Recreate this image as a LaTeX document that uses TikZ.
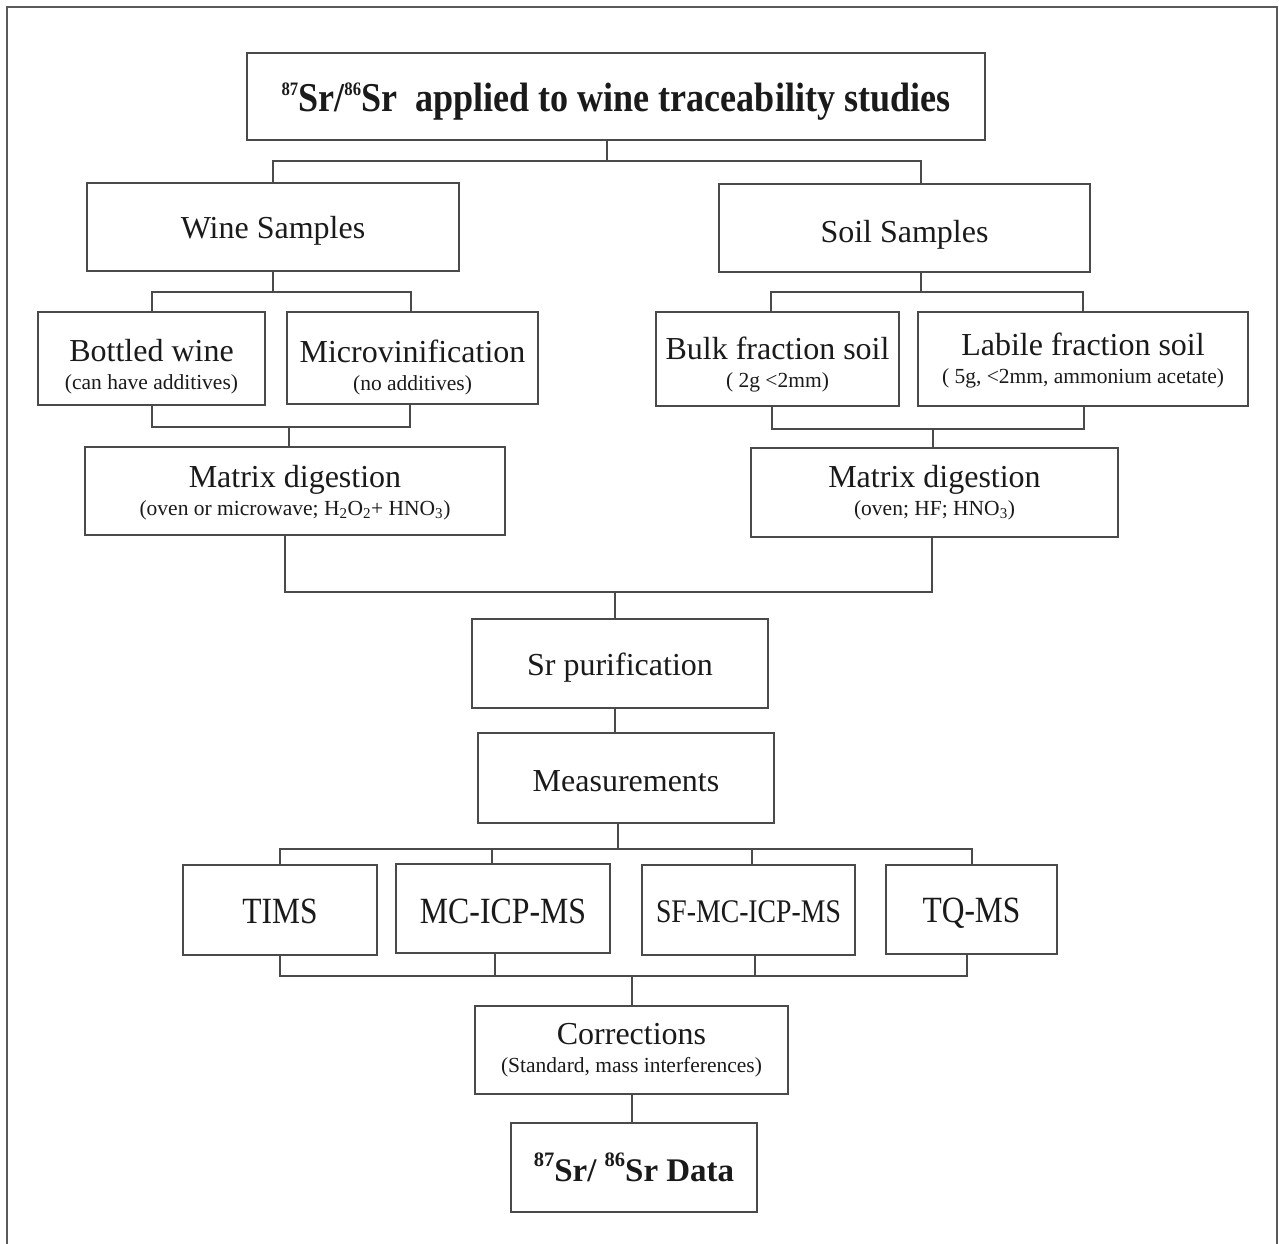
\documentclass[tikz,border=0pt]{standalone}
\usepackage{fontspec}
\usepackage{graphicx}
\setmainfont{Liberation Serif}
\definecolor{linec}{HTML}{4A4A4A}
\definecolor{framec}{HTML}{5A5A5A}
\definecolor{txt}{HTML}{1A1A1A}
\newcommand{\mainf}{\fontsize{32}{36}\selectfont}
\newcommand{\subf}{\fontsize{21.5}{26}\selectfont}
\newcommand{\titlef}{\fontsize{41}{44}\selectfont\bfseries}
\newcommand{\databf}{\fontsize{33}{38}\selectfont\bfseries}
\newcommand{\instf}{\fontsize{37}{40}\selectfont}
\newcommand{\supnum}[3]{\raisebox{#3pt}{\fontsize{#2}{#2}\selectfont #1}}
\begin{document}
\begin{tikzpicture}[x=1pt,y=-1pt,
  box/.style={draw=linec, line width=1.5pt, inner sep=0pt, align=center, font=\mainf, text=txt},
  sz/.style 2 args={minimum width=#1pt, minimum height=#2pt},
  th/.style={text height=#1pt, text depth=0pt},
  conn/.style={draw=linec, line width=1.5pt}]
\useasboundingbox (0,0) rectangle (1279,1244);
\fill[white] (0,0) rectangle (1279,1244);
\draw[draw=framec, line width=2pt] (7,1250) -- (7,7) -- (1277,7) -- (1277,1250);

% nodes
\node[box, sz={738}{87}, font=\titlef, th=31] (title) at (616,96.5)
  {\scalebox{0.88}[1]{\supnum{87}{19}{16.7}Sr/\supnum{86}{19}{16.7}Sr\ \ applied to wine traceability studies}};
\node[box, sz={372}{88}, th=22] (wine) at (273,227) {Wine Samples};
\node[box, sz={371}{88}, th=28] (soil) at (904.5,228) {Soil Samples};
\node[box, sz={227}{93}, th=61] (bottled) at (151.5,358.5)
  {Bottled wine\\[-8pt]{\subf (can have additives)}};
\node[box, sz={251}{92}, th=64] (micro) at (412.5,358)
  {Microvinification\\[-8pt]{\subf (no additives)}};
\node[box, sz={243}{94}, th=56] (bulk) at (777.5,359)
  {Bulk fraction soil\\[-8pt]{\subf ( 2g <2mm)}};
\node[box, sz={330}{94}, th=48] (labile) at (1083,359)
  {Labile fraction soil\\[-8pt]{\subf ( 5g, <2mm, ammonium acetate)}};
\node[box, sz={420}{88}, th=48] (matL) at (295,491)
  {Matrix digestion\\[-8pt]{\subf (oven or microwave; H\textsubscript{2}O\textsubscript{2}+ HNO\textsubscript{3})}};
\node[box, sz={367}{89}, th=45] (matR) at (934.5,492.5)
  {Matrix digestion\\[-8pt]{\subf (oven; HF; HNO\textsubscript{3})}};
\node[box, sz={296}{89}, th=23] (srp) at (620,663.5) {Sr purification};
\node[box, sz={296}{90}, th=26] (meas) at (626,778) {Measurements};
\node[box, sz={194}{90}, th=26, font=\instf] (tims) at (280,910) {\scalebox{0.85}[1]{TIMS}};
\node[box, sz={214}{89}, th=29, font=\instf] (mc) at (503,908.5) {\scalebox{0.86}[1]{MC-ICP-MS}};
\node[box, sz={213}{90}, th=24, font=\fontsize{33}{36}\selectfont] (sf) at (748.5,910) {\scalebox{0.84}[1]{SF-MC-ICP-MS}};
\node[box, sz={171}{89}, th=25, font=\instf] (tq) at (971.5,909.5) {\scalebox{0.85}[1]{TQ-MS}};
\node[box, sz={313}{88}, th=45] (corr) at (631.5,1050)
  {Corrections\\[-8pt]{\subf (Standard, mass interferences)}};
\node[box, sz={246}{89}, font=\databf, th=28] (data) at (634,1167.5)
  {\supnum{87}{20.5}{15}Sr/ \supnum{86}{20.5}{15}Sr Data};

% junction coordinates
\coordinate (j0) at (607,161); \coordinate (j0l) at (273,161); \coordinate (j0r) at (921,161);
\coordinate (j1) at (273,292); \coordinate (j1l) at (152,292); \coordinate (j1r) at (411,292);
\coordinate (j2) at (921,292); \coordinate (j2l) at (771,292); \coordinate (j2r) at (1083,292);
\coordinate (j3) at (289,427); \coordinate (j3l) at (152,427); \coordinate (j3r) at (410,427);
\coordinate (j4) at (933,429); \coordinate (j4l) at (772,429); \coordinate (j4r) at (1084,429);
\coordinate (j5) at (615,592); \coordinate (j5l) at (285,592); \coordinate (j5r) at (932,592);
\coordinate (j6) at (615,720);
\coordinate (j7) at (618,849); \coordinate (j7a) at (280,849); \coordinate (j7b) at (492,849);
\coordinate (j7c) at (752,849); \coordinate (j7d) at (972,849);
\coordinate (j8) at (632,976); \coordinate (j8a) at (280,976); \coordinate (j8b) at (495,976);
\coordinate (j8c) at (755,976); \coordinate (j8d) at (967,976);
\coordinate (j9) at (632,1108);

% connectors
\draw[conn] (title.south -| j0) -- (j0);
\draw[conn] (wine.north -| j0l) |- (j0r) -- (soil.north -| j0r);
\draw[conn] (wine.south -| j1) -- (j1);
\draw[conn] (bottled.north -| j1l) |- (j1r) -- (micro.north -| j1r);
\draw[conn] (soil.south -| j2) -- (j2);
\draw[conn] (bulk.north -| j2l) |- (j2r) -- (labile.north -| j2r);
\draw[conn] (bottled.south -| j3l) |- (j3r) -- (micro.south -| j3r);
\draw[conn] (j3) -- (matL.north -| j3);
\draw[conn] (bulk.south -| j4l) |- (j4r) -- (labile.south -| j4r);
\draw[conn] (j4) -- (matR.north -| j4);
\draw[conn] (matL.south -| j5l) |- (j5r) -- (matR.south -| j5r);
\draw[conn] (j5) -- (srp.north -| j5);
\draw[conn] (srp.south -| j6) -- (meas.north -| j6);
\draw[conn] (meas.south -| j7) -- (j7);
\draw[conn] (tims.north -| j7a) |- (j7d) -- (tq.north -| j7d);
\draw[conn] (j7b) -- (mc.north -| j7b);
\draw[conn] (j7c) -- (sf.north -| j7c);
\draw[conn] (tims.south -| j8a) |- (j8d) -- (tq.south -| j8d);
\draw[conn] (mc.south -| j8b) -- (j8b);
\draw[conn] (sf.south -| j8c) -- (j8c);
\draw[conn] (j8) -- (corr.north -| j8);
\draw[conn] (corr.south -| j9) -- (data.north -| j9);
\end{tikzpicture}
\end{document}
